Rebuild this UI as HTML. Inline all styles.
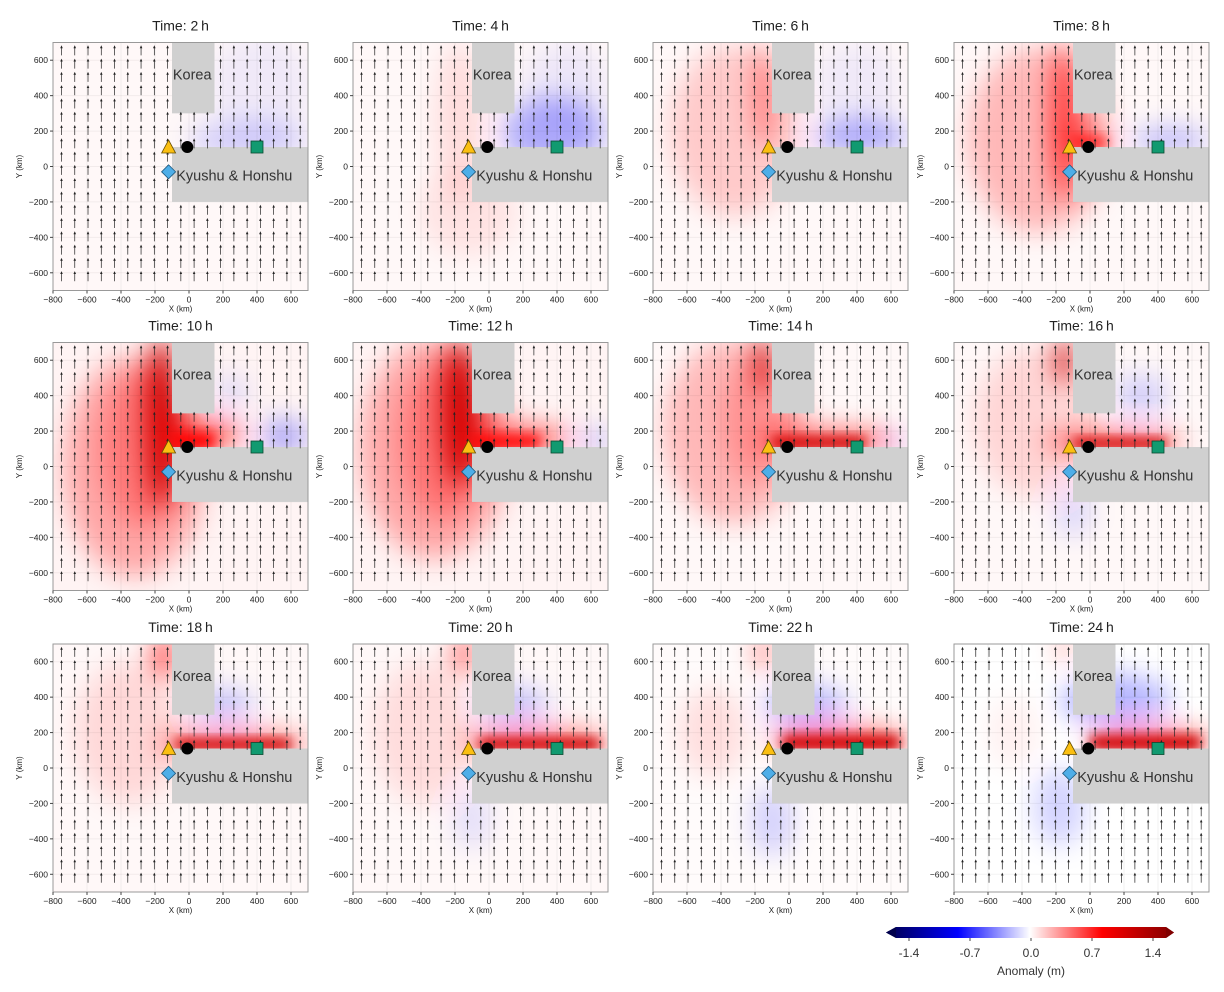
<!DOCTYPE html>
<html><head><meta charset="utf-8"><style>
body{margin:0;background:#fff;}
svg{display:block;font-family:"Liberation Sans","DejaVu Sans",sans-serif;}
</style></head><body>
<svg id="fig" width="1224" height="992" viewBox="0 0 1224 992" xmlns="http://www.w3.org/2000/svg">
<defs>
<filter id="blur" x="-50%" y="-50%" width="200%" height="200%"><feGaussianBlur stdDeviation="13"/></filter>
<filter id="blur2" x="-50%" y="-50%" width="200%" height="200%"><feGaussianBlur stdDeviation="6"/></filter>
<linearGradient id="cmap" x1="0" x2="1" y1="0" y2="0">
<stop offset="0" stop-color="#00004c"/><stop offset="0.25" stop-color="#0000ff"/><stop offset="0.5" stop-color="#ffffff"/><stop offset="0.75" stop-color="#ff0000"/><stop offset="1" stop-color="#800000"/>
</linearGradient>
</defs>
</svg>
<script>
const times = [2,4,6,8,10,12,14,16,18,20,22,24];
// broad blobs per panel: [xkm, ykm, rxkm, rykm, anomaly m]
const bg = [0.02,0.02,0.02,0.02,0.03,0.03,0.02,0.02,0.02,0.02,0.01,0.0];
const fields = [
 [[350,150,350,110,-0.12],[420,450,300,300,-0.04]],
 [[-170,250,140,450,0.08],[-120,-250,280,250,0.06],[380,190,300,200,-0.22],[450,450,250,250,-0.05]],
 [[-320,200,380,480,0.13],[-145,400,60,300,0.3],[420,170,280,100,-0.22],[400,450,250,250,-0.04]],
 [[-300,150,420,520,0.18],[-150,250,80,450,0.5],[-40,160,140,60,0.4],[470,150,230,70,-0.18]],
 [[-320,0,420,620,0.22],[-260,100,260,450,0.2],[-160,250,100,480,0.75],[60,180,260,80,0.45],[560,170,140,100,-0.22],[250,420,90,90,-0.1]],
 [[-320,100,440,620,0.22],[-260,150,260,450,0.22],[-170,300,110,420,0.75],[150,160,330,70,0.45],[620,150,80,60,-0.2]],
 [[-320,200,420,520,0.18],[-200,250,200,350,0.15],[-145,580,50,160,0.8],[220,150,420,55,0.5],[650,140,50,40,-0.2]],
 [[-320,250,360,420,0.1],[-145,600,50,130,0.75],[140,140,420,50,0.5],[300,400,150,120,-0.12],[-100,-250,100,150,-0.1]],
 [[-350,200,320,400,0.09],[-145,630,50,110,0.7],[260,140,460,55,0.45],[200,350,180,100,-0.15]],
 [[-380,200,300,400,0.08],[-145,640,50,100,0.55],[280,150,440,60,0.45],[150,350,200,110,-0.15],[-100,-280,100,180,-0.08]],
 [[-450,200,200,250,0.08],[-145,650,40,90,0.45],[300,160,420,65,0.45],[100,350,250,120,-0.18],[-100,-300,120,200,-0.12]],
 [[-450,200,150,200,0.04],[-145,680,40,70,0.3],[360,160,370,65,0.4],[150,380,320,150,-0.2],[-180,-220,150,220,-0.12]]
];
// sharp coastal strips: [x0km, x1km, ykm-top, anomaly m]
const strips = [
 [],[],[],
 [[-100,100,170,0.5]],
 [[-100,150,190,0.7]],
 [[-100,300,180,0.65]],
 [[-100,450,170,0.75]],
 [[-100,450,160,0.85]],
 [[-80,600,165,0.85]],
 [[-60,650,170,0.8]],
 [[-40,650,185,0.8]],
 [[0,650,185,0.75]]
];
const arrowXs = []; for(let i=0;i<19;i++) arrowXs.push(-750+78*i);
const arrowYs = []; for(let j=0;j<18;j++) arrowYs.push(655-75*j);
const arrowV = 55;
const xTicks = [-800,-600,-400,-200,0,200,400,600];
const yTicks = [600,400,200,0,-200,-400,-600];
const cbTicks = [-1.4,-0.7,0.0,0.7,1.4];
const cbLabels = ["-1.4","-0.7","0.0","0.7","1.4"];

const NS='http://www.w3.org/2000/svg';
const svg=document.getElementById('fig');
function mk(tag,attrs,parent){const e=document.createElementNS(NS,tag);for(const k in attrs)e.setAttribute(k,attrs[k]);(parent||svg).appendChild(e);return e;}
const colL=[53,353,653,954], rowT=[42.5,342.5,644];
const W=255,H=248;
function color(v){const a=Math.abs(v);if(v>=0){if(a<=0.7)return ['#ff0000',Math.min(1,a/0.7)];return ['#d00000',1];}return ['#0000ff',Math.min(1,a/0.7)];}
times.forEach((t,p)=>{
 const L=colL[p%4],T=rowT[Math.floor(p/4)];
 const sx=x=>L+(x+800)*W/1500, sy=y=>T+(700-y)*H/1400;
 const g=mk('g',{});
 
 
 const cid='c'+p;
 const cp=mk('clipPath',{id:cid},g);mk('rect',{x:L,y:T,width:W,height:H},cp);
 const title=mk('text',{x:L+W/2,y:T-12,'text-anchor':'middle','font-size':14,fill:'#222'},g);
 title.textContent='Time: '+t+'\u2009h';
 
 
 const bgc=color(bg[p]);
 mk('rect',{x:L,y:T,width:W,height:H,fill:'#fff'},g);
 mk('rect',{x:L,y:T,width:W,height:H,fill:bgc[0],'fill-opacity':bgc[1]},g);
 const fg=mk('g',{'clip-path':'url(#'+cid+')'},g);
 const fb=mk('g',{filter:'url(#blur)'},fg);
 fields[p].forEach(b=>{const c=color(b[4]);
  const e=mk('ellipse',{cx:sx(b[0]),cy:sy(b[1]),rx:b[2]*W/1500,ry:b[3]*H/1400,fill:c[0],'fill-opacity':c[1]},fb);
  
  });
 const fs=mk('g',{filter:'url(#blur2)'},fg);
 strips[p].forEach(s=>{const c=color(s[3]);
  const e=mk('rect',{x:sx(s[0]),y:sy(s[2]),width:sx(s[1])-sx(s[0]),height:sy(100)-sy(s[2]),fill:c[0],'fill-opacity':c[1]},fs);
  
  });
 xTicks.forEach(x=>mk('line',{x1:sx(x),x2:sx(x),y1:T,y2:T+H,stroke:'#000','stroke-opacity':0.05},fg));
 yTicks.forEach(y=>mk('line',{x1:L,x2:L+W,y1:sy(y),y2:sy(y),stroke:'#000','stroke-opacity':0.05},fg));
 const k=mk('rect',{x:sx(-100),y:sy(700),width:sx(150)-sx(-100),height:sy(300)-sy(700),fill:'#d0d0d0'},fg);
 
 
 const j=mk('rect',{x:sx(-100),y:sy(110),width:sx(700)-sx(-100),height:sy(-200)-sy(110),fill:'#d0d0d0'},fg);
 
 
 const ag=mk('g',{stroke:'#222','stroke-width':0.7,fill:'#222'},fg);
 arrowXs.forEach(x=>arrowYs.forEach(y=>{
  if(x>-100&&x<150&&y>300)return; if(x>-100&&y<110&&y>-200)return;
  const x0=sx(x),y0=sy(y-arrowV/2),y1=sy(y+arrowV/2);
  mk('line',{x1:x0,x2:x0,y1:y0,y2:y1+2},ag);
  mk('path',{d:`M${x0-1.3},${y1+2.6}L${x0},${y1-0.3}L${x0+1.3},${y1+2.6}Z`,stroke:'none'},ag);
 }));
 const kt=mk('text',{x:sx(-95),y:sy(490),'font-size':14.5,fill:'#333'},fg);kt.textContent='Korea';
 
 const jt=mk('text',{x:sx(-75),y:sy(-80),'font-size':14.5,fill:'#333'},fg);jt.textContent='Kyushu & Honshu';
 
 const m1=mk('path',{d:`M${sx(-120)-7},${sy(110)+6}L${sx(-120)},${sy(110)-7}L${sx(-120)+7},${sy(110)+6}Z`,fill:'#fbbf12',stroke:'#6a5000','stroke-width':0.8},g);
 
 const m2=mk('circle',{cx:sx(-10),cy:sy(110),r:6,fill:'#000'},g);
 
 const m3=mk('rect',{x:sx(400)-6,y:sy(110)-6,width:12,height:12,fill:'#119a70',stroke:'#0a4a30','stroke-width':0.8},g);
 
 const dx=sx(-120),dy=sy(-30);
 const m4=mk('path',{d:`M${dx-7},${dy}L${dx},${dy-7}L${dx+7},${dy}L${dx},${dy+7}Z`,fill:'#4eaee8',stroke:'#205a80','stroke-width':0.8},g);
 
 mk('rect',{x:L,y:T,width:W,height:H,fill:'none',stroke:'#999','stroke-width':1},g);
 xTicks.forEach(x=>{mk('line',{x1:sx(x),x2:sx(x),y1:T+H,y2:T+H+3,stroke:'#444'},g);
  const tt=mk('text',{x:sx(x),y:T+H+12,'text-anchor':'middle','font-size':8.5,fill:'#222'},g);tt.textContent=x<0?'\u2212'+(-x):x;
  });
 yTicks.forEach(y=>{mk('line',{x1:L-3,x2:L,y1:sy(y),y2:sy(y),stroke:'#444'},g);
  const tt=mk('text',{x:L-5,y:sy(y)+3,'text-anchor':'end','font-size':8.5,fill:'#222'},g);tt.textContent=y<0?'\u2212'+(-y):y;
  });
 const xl=mk('text',{x:L+W/2,y:T+H+21,'text-anchor':'middle','font-size':8,fill:'#222'},g);xl.textContent='X (km)';
 
 const yl=mk('text',{x:0,y:0,transform:`translate(${L-31},${T+H/2}) rotate(-90)`,'text-anchor':'middle','font-size':8,fill:'#222'},g);yl.textContent='Y (km)';
 
});
const cb=mk('g',{});


const cx=v=>1031+v*(1153-909)/2.8;
mk('path',{d:`M886,932.5L896,927L1166,927L1174,932.5L1166,938L896,938Z`,fill:'url(#cmap)'},cb);
mk('path',{d:`M886,932.5L896,927L896,938Z`,fill:'#00004c'},cb);
mk('path',{d:`M1174,932.5L1166,927L1166,938Z`,fill:'#800000'},cb);
cbTicks.forEach((v,i)=>{mk('line',{x1:cx(v),x2:cx(v),y1:938,y2:941,stroke:'#444'},cb);
 const tt=mk('text',{x:cx(v),y:957,'text-anchor':'middle','font-size':12,fill:'#333'},cb);tt.textContent=cbLabels[i];
 });
const cl=mk('text',{x:1031,y:975,'text-anchor':'middle','font-size':12,fill:'#333'},cb);cl.textContent='Anomaly (m)';

</script>
</body></html>
